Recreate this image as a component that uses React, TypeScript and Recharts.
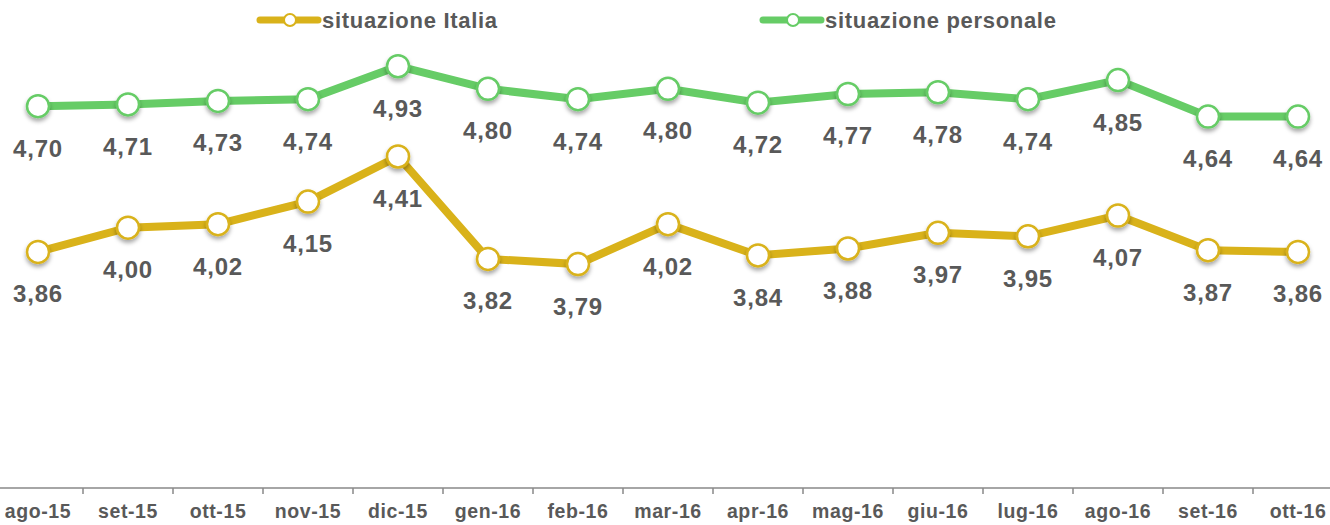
import React from 'react';
import { LineChart, Line, XAxis, YAxis, LabelList } from 'recharts';

const months = ['ago-15', 'set-15', 'ott-15', 'nov-15', 'dic-15', 'gen-16', 'feb-16', 'mar-16', 'apr-16', 'mag-16', 'giu-16', 'lug-16', 'ago-16', 'set-16', 'ott-16'];
const italia = [3.86, 4.0, 4.02, 4.15, 4.41, 3.82, 3.79, 4.02, 3.84, 3.88, 3.97, 3.95, 4.07, 3.87, 3.86];
const personale = [4.7, 4.71, 4.73, 4.74, 4.93, 4.8, 4.74, 4.8, 4.72, 4.77, 4.78, 4.74, 4.85, 4.64, 4.64];
const seriesNames = ['situazione Italia', 'situazione personale'];

const GOLD = '#D9B21A';
const GREEN = '#66CC66';
const TEXT = '#595959';
const FONT = '"Liberation Sans", Arial, sans-serif';

const data = months.map((m, i) => ({ month: m, italia: italia[i], personale: personale[i] }));

const fmt = (v: number) => v.toFixed(2).replace('.', ',');

const makeDot = (color: string) => (props: any) => {
  const { cx, cy, index } = props;
  if (cx == null || cy == null) return <g key={`d-${index}`} />;
  return (
    <g key={`d-${color}-${index}`}>
      <circle cx={cx} cy={cy} r={11} fill="#fff" stroke={color} strokeWidth={2.5} filter="url(#dotShadow)" />
    </g>
  );
};

const renderLabel = (props: any) => {
  const { x, y, value, index } = props;
  return (
    <text
      key={`l-${index}`}
      x={x}
      y={y + 42}
      textAnchor="middle"
      dominantBaseline="central"
      fontFamily={FONT}
      fontWeight="bold"
      fontSize={24}
      letterSpacing={0.8}
      fill={TEXT}
    >
      {fmt(Number(value))}
    </text>
  );
};

const renderTick = (props: any) => {
  const { x, y, payload, index } = props;
  return (
    <g key={`t-${index}`}>
      <line x1={x + 45} x2={x + 45} y1={y} y2={y + 6} stroke="#898989" strokeWidth={1.5} />
      <text
        x={x}
        y={y + 30}
        textAnchor="middle"
        fontFamily={FONT}
        fontWeight="bold"
        fontSize={19.5}
        letterSpacing={0.6}
        fill={TEXT}
      >
        {payload.value}
      </text>
    </g>
  );
};

const LegendItem = ({ x, color, label }: { x: number; color: string; label: string }) => (
  <g>
    <line x1={x} x2={x + 58} y1={20} y2={20} stroke={color} strokeWidth={7} strokeLinecap="round" />
    <circle cx={x + 30} cy={20} r={6} fill="#fff" stroke={color} strokeWidth={2} />
    <text x={x + 62} y={28} fontFamily={FONT} fontWeight="bold" fontSize={22} letterSpacing={0.7} fill={TEXT}>
      {label}
    </text>
  </g>
);

export default function App() {
  return (
    <div style={{ position: 'absolute', left: 0, top: 0, width: 1330, height: 525, overflow: 'hidden', background: '#fff' }}>
      <svg width={0} height={0} style={{ position: 'absolute' }}>
        <defs>
          <filter id="dotShadow" x="-50%" y="-50%" width="200%" height="200%">
            <feDropShadow dx={0} dy={3} stdDeviation={2} floodColor="#000" floodOpacity={0.35} />
          </filter>
        </defs>
      </svg>
      <div style={{ position: 'absolute', left: 0, top: 0 }}>
        <LineChart width={1330} height={525} data={data} margin={{ top: 2, right: 0, bottom: 7, left: 0 }}>
          <XAxis
            dataKey="month"
            height={30}
            padding={{ left: 38, right: 32 }}
            axisLine={{ stroke: '#898989', strokeWidth: 1.5 }}
            tickLine={false}
            tickSize={0}
            tickMargin={0}
            interval={0}
            tick={renderTick}
          />
          <YAxis hide width={0} domain={[2.5, 5.3]} type="number" />
          <Line
            dataKey="italia"
            name={seriesNames[0]}
            stroke={GOLD}
            strokeWidth={8}
            dot={makeDot(GOLD)}
            activeDot={false}
            isAnimationActive={false}
          >
            <LabelList dataKey="italia" content={renderLabel} />
          </Line>
          <Line
            dataKey="personale"
            name={seriesNames[1]}
            stroke={GREEN}
            strokeWidth={8}
            dot={makeDot(GREEN)}
            activeDot={false}
            isAnimationActive={false}
          >
            <LabelList dataKey="personale" content={renderLabel} />
          </Line>
        </LineChart>
      </div>
      <svg width={1330} height={45} style={{ position: 'absolute', left: 0, top: 0 }}>
        <LegendItem x={260} color={GOLD} label={seriesNames[0]} />
        <LegendItem x={763} color={GREEN} label={seriesNames[1]} />
      </svg>
    </div>
  );
}
